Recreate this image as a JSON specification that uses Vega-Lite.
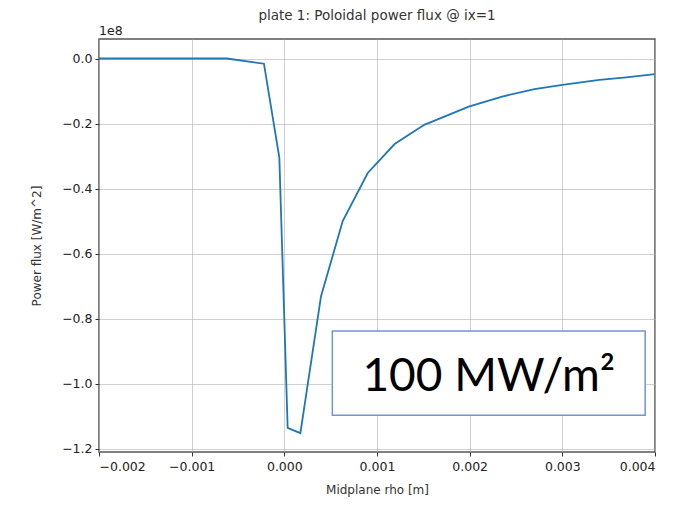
{
  "$schema": "https://vega.github.io/schema/vega-lite/v6.json",
  "autosize": {"type": "none"},
  "width": 556,
  "height": 413,
  "padding": {"left": 99, "top": 39, "right": 24, "bottom": 53},
  "background": "white",
  "title": {"text": "plate 1: Poloidal power flux @ ix=1", "fontSize": 13.5, "fontWeight": "normal", "font": "DejaVu Sans", "color": "#333333", "offset": 3},
  "config": {
    "view": {"stroke": "#555555", "strokeWidth": 1.5},
    "axis": {
      "labelFont": "DejaVu Sans", "labelFontSize": 12.5, "labelColor": "#222222",
      "titleFont": "DejaVu Sans", "titleFontSize": 12, "titleFontWeight": "normal", "titleColor": "#333333",
      "gridColor": "#b0b0b0", "gridOpacity": 0.6, "gridWidth": 1,
      "tickColor": "#333333", "tickSize": 4, "domain": false
    }
  },
  "layer": [
    {
      "data": {"values": [
        {"rho": -0.002, "flux": 0},
        {"rho": -0.00062, "flux": 0},
        {"rho": -0.00022, "flux": -1.6e6},
        {"rho": -0.000054, "flux": -3.05e7},
        {"rho": 0.000036, "flux": -1.136e8},
        {"rho": 0.000173, "flux": -1.152e8},
        {"rho": 0.000396, "flux": -7.31e7},
        {"rho": 0.00063, "flux": -5.0e7},
        {"rho": 0.0009, "flux": -3.52e7},
        {"rho": 0.00119, "flux": -2.63e7},
        {"rho": 0.00151, "flux": -2.04e7},
        {"rho": 0.00199, "flux": -1.48e7},
        {"rho": 0.00235, "flux": -1.17e7},
        {"rho": 0.0027, "flux": -9.4e6},
        {"rho": 0.003, "flux": -8.1e6},
        {"rho": 0.0034, "flux": -6.6e6},
        {"rho": 0.00369, "flux": -5.8e6},
        {"rho": 0.004, "flux": -4.8e6}
      ]},
      "mark": {"type": "line", "color": "#1f77b4", "strokeWidth": 1.8},
      "encoding": {
        "x": {"field": "rho", "type": "quantitative", "title": "Midplane rho [m]",
              "scale": {"domain": [-0.002, 0.004], "nice": false, "zero": false},
              "axis": {"values": [-0.002, -0.001, 0, 0.001, 0.002, 0.003, 0.004], "format": ".3f", "labelPadding": 4, "titlePadding": 12}},
        "y": {"field": "flux", "type": "quantitative", "title": "Power flux [W/m^2]",
              "scale": {"domain": [-1.21e8, 0.06e8], "nice": false, "zero": false},
              "axis": {"values": [-1.2e8, -1.0e8, -0.8e8, -0.6e8, -0.4e8, -0.2e8, 0], "labelExpr": "format(datum.value / 1e8, '.1f')", "labelPadding": 3, "titlePadding": 18}}
      }
    },
    {
      "data": {"values": [{"x1": 0.000518, "x2": 0.003894, "y1": -0.838e8, "y2": -1.097e8, "xc": 0.002206, "yc": -0.968e8, "label": "100 MW/m²"}]},
      "layer": [
        {
          "mark": {"type": "rect", "fill": "white", "stroke": "#7393d6", "strokeWidth": 1.5},
          "encoding": {
            "x": {"field": "x1", "type": "quantitative"},
            "x2": {"field": "x2"},
            "y": {"field": "y1", "type": "quantitative"},
            "y2": {"field": "y2"}
          }
        },
        {
          "mark": {"type": "text", "font": "Lato", "fontSize": 46, "color": "#000000", "align": "center", "baseline": "middle", "dy": 4},
          "encoding": {
            "x": {"field": "xc", "type": "quantitative"},
            "y": {"field": "yc", "type": "quantitative"},
            "text": {"field": "label"}
          }
        }
      ]
    },
    {
      "data": {"values": [{"x": -0.002, "y": 0.06e8, "t": "1e8"}]},
      "mark": {"type": "text", "font": "DejaVu Sans", "fontSize": 12.5, "color": "#222222", "align": "left", "baseline": "bottom", "dy": -1},
      "encoding": {
        "x": {"field": "x", "type": "quantitative"},
        "y": {"field": "y", "type": "quantitative"},
        "text": {"field": "t"}
      }
    }
  ]
}
